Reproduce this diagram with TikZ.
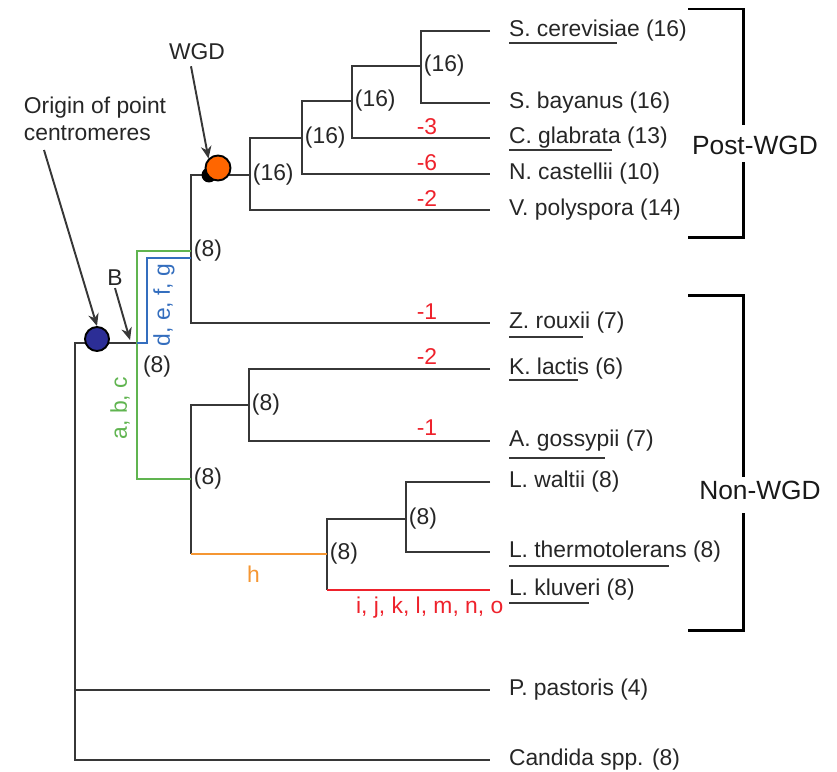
\documentclass[tikz,border=0pt]{standalone}
\usepackage{fontspec}
\setmainfont{Liberation Sans}
\usepackage{tikz}
\usetikzlibrary{
  arrows.meta,
  positioning,
  calc
}
\definecolor{tgreen}{RGB}{96,180,80}
\definecolor{tblue}{RGB}{52,110,190}
\definecolor{torange}{RGB}{245,150,50}
\definecolor{tred}{RGB}{238,34,44}
\definecolor{tnavy}{RGB}{44,46,150}
\definecolor{twgd}{RGB}{255,102,0}
\definecolor{tline}{RGB}{55,55,55}

\begin{document}
\begin{tikzpicture}[
  x=0.02cm, y=-0.02cm,
  every node/.style={font=\fontsize{13pt}{15.5pt}\selectfont},
  branch/.style={draw=tline, line width=1.1pt},
  gline/.style={draw=tgreen, line width=1.1pt},
  bline/.style={draw=tblue, line width=1.1pt},
  oline/.style={draw=torange, line width=1.1pt},
  rline/.style={draw=tred, line width=1.1pt},
  uline/.style={draw=tline, line width=0.8pt},
  brk/.style={draw=black, line width=1.7pt},
  leaf/.style={anchor=west, inner sep=2pt, outer xsep=0.31cm, text=black!85},
  cnt/.style={right, inner sep=1.5pt, text=black!85},
  loss/.style={text=tred},
  grp/.style={font=\fontsize{15pt}{18pt}\selectfont, text=black!90},
  arr/.style={-{Stealth[length=7pt,width=6pt]}, line width=1.1pt, draw=tline},
  dot/.style={circle, draw=black, line width=1.1pt, inner sep=0pt}
]
  \useasboundingbox (0,0) rectangle (837,771);

  % leaves
  \node[leaf] (scer) at (490,31)  {S. cerevisiae (16)};
  \node[leaf] (sbay) at (490,103) {S. bayanus (16)};
  \node[leaf] (cgla) at (490,138) {C. glabrata (13)};
  \node[leaf] (ncas) at (490,174) {N. castellii (10)};
  \node[leaf] (vpol) at (490,210) {V. polyspora (14)};
  \node[leaf] (zrou) at (490,323) {Z. rouxii (7)};
  \node[leaf] (klac) at (490,369) {K. lactis (6)};
  \node[leaf] (agos) at (490,441) {A. gossypii (7)};
  \node[leaf] (lwal) at (490,482) {L. waltii (8)};
  \node[leaf] (lthe) at (490,552) {L. thermotolerans (8)};
  \node[leaf] (lklu) at (490,590) {L. kluveri (8)};
  \node[leaf] (ppas) at (490,690) {P. pastoris (4)};
  \node[leaf] (cand) at (490,760) {Candida spp. (8)};

  % inner nodes
  \coordinate (n5)   at (421,66);
  \coordinate (n4)   at (352,101);
  \coordinate (n3)   at (302,138);
  \coordinate (nW)   at (250,175);
  \coordinate (nA)   at (191,251);
  \coordinate (nB)   at (137,343);
  \coordinate (root) at (75,343);
  \coordinate (nC)   at (191,479);
  \coordinate (nK)   at (249,405);
  \coordinate (nL)   at (327,554);
  \coordinate (nLw)  at (406,519);

  \draw[branch] (scer.west) -| (n5) |- (sbay.west);
  \draw[branch] (n5) -| (n4) |- (cgla.west);
  \draw[branch] (n4) -| (n3) |- (ncas.west);
  \draw[branch] (n3) -| (nW) |- (vpol.west);
  \draw[branch] (nW) -| (nA) |- (zrou.west);
  \draw[branch] (klac.west) -| (nK) |- (agos.west);
  \draw[branch] (lwal.west) -| (nLw) |- (lthe.west);
  \draw[branch] (nLw) -| (nL) -- (nL |- lklu.west);
  \draw[branch] (nK) -| (nC) -- (nC |- nL);
  \draw[branch] (nB) -- (root) |- (cand.west);
  \draw[branch] (root) |- (ppas.west);

  % coloured branches
  \draw[gline] (nA) -| (nB) |- (nC);
  \draw[bline] (nB) -- ++(10,0) |- ($(nA)+(0,7)$);
  \draw[oline] (nC |- nL) -- node[below=3pt, pos=0.46, text=torange]{h} (nL);
  \draw[rline] (nL |- lklu.west) -- node[below, pos=0.63, text=tred]{i, j, k, l, m, n, o} (lklu.west);
  \node[rotate=90, text=tgreen] (abc) at (120,408) {a, b, c};
  \node[rotate=90, text=tblue]  (defg) at (164,305) {d, e, f, g};

  % chromosome numbers
  \node[cnt] at (n5) {(16)};
  \node[cnt] at (n4) {(16)};
  \node[cnt] at (n3) {(16)};
  \node[cnt] at (nW) {(16)};
  \node[cnt] at (nA) {(8)};
  \node[cnt] at (nC) {(8)};
  \node[cnt] at (nK) {(8)};
  \node[cnt] at (nL) {(8)};
  \node[cnt] at (nLw) {(8)};
  \node[text=black!85] (nBlbl) at (157,367) {(8)};

  % losses
  \node[loss] at (427,127) {-3};
  \node[loss] at (427,163) {-6};
  \node[loss] at (427,199) {-2};
  \node[loss] at (427,312) {-1};
  \node[loss] at (427,357) {-2};
  \node[loss] at (427,428) {-1};

  % underlines
  \draw[uline] ($(scer.west)+(19,12)$) -- ++(108,0);
  \draw[uline] ($(cgla.west)+(19,12)$) -- ++(103,0);
  \draw[uline] ($(zrou.west)+(19,14)$) -- ++(74,0);
  \draw[uline] ($(klac.west)+(19,11)$) -- ++(69,0);
  \draw[uline] ($(agos.west)+(19,17)$) -- ++(96,0);
  \draw[uline] ($(lthe.west)+(19,14)$) -- ++(160,0);
  \draw[uline] ($(lklu.west)+(19,13)$) -- ++(80,0);

  % events
  \node[dot, fill=tnavy, minimum size=0.48cm] (origin) at (97,339) {};
  \node[dot, fill=black, minimum size=0.26cm] (wgdsh) at (209,175) {};
  \node[dot, fill=twgd, minimum size=0.5cm] (wgd) at (218,168) {};

  \node[align=left, text=black!85] (origlbl) at (95,119) {Origin of point\\centromeres};
  \coordinate (origtail) at (44,150);
  \draw[arr] (origtail) -- (origin.north);

  \node[text=black!85] (wgdlbl) at (197,52) {WGD};
  \draw[arr] ($(wgdlbl.south)+(-6,0)$) -- (wgd.north west);

  \node[text=black!85] (blbl) at (115,278) {B};
  \draw[arr] ($(blbl.south)+(0,-4)$) -- ($(nB)+(-7,-3)$);

  % groups
  \node[grp] (postlbl) at (755,145) {Post-WGD};
  \draw[brk] (688,9) -| (743,125);
  \draw[brk] (743,162) |- (688,237);
  \node[grp] (nonlbl) at (760,490) {Non-WGD};
  \draw[brk] (688,295) -| (743,477);
  \draw[brk] (743,513) |- (688,630);
\end{tikzpicture}
\end{document}
